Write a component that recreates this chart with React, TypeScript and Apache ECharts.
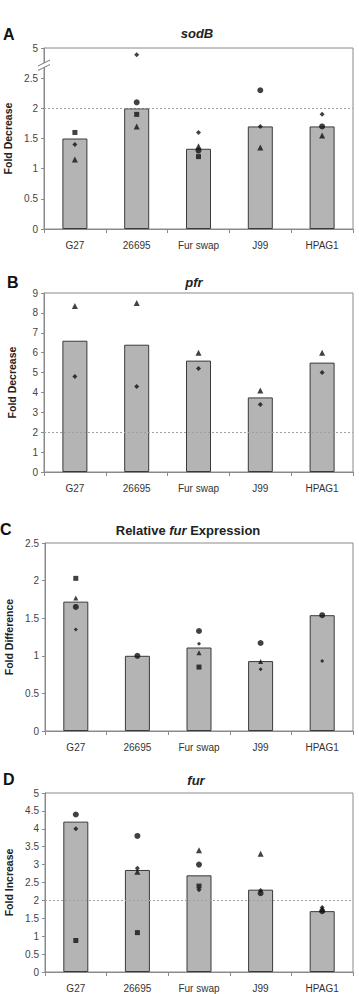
import React, { useEffect, useRef } from 'react';
import * as echarts from 'echarts';

const categories = ['G27', '26695', 'Fur swap', 'J99', 'HPAG1'];

// Panel A: sodB (fold decrease), y axis broken between 2.5 and 5
const sodBBars = [1.5, 2.0, 1.33, 1.7, 1.7];
const sodBSquares = [1.6, 1.9, 1.2, null, null];
const sodBDiamonds = [1.4, 4.45, 1.6, 1.7, 1.9];
const sodBCircles = [null, 2.1, 1.3, 2.3, 1.7];
const sodBTriangles = [1.15, 1.7, 1.37, 1.35, 1.55];

// Panel B: pfr (fold decrease)
const pfrBars = [6.6, 6.4, 5.6, 3.75, 5.5];
const pfrTriangles = [8.35, 8.5, 6.0, 4.1, 6.0];
const pfrDiamonds = [4.8, 4.3, 5.2, 3.4, 5.0];

// Panel C: relative fur expression (fold difference)
const relFurBars = [1.72, 1.0, 1.11, 0.93, 1.54];
const relFurSquares = [2.03, null, 0.85, null, null];
const relFurTriangles = [1.77, null, 1.04, 0.925, null];
const relFurDiamonds = [1.35, null, 1.16, 0.82, 0.93];
const relFurCircles = [1.65, 1.0, 1.33, 1.17, 1.54];

// Panel D: fur (fold increase)
const furBars = [4.2, 2.85, 2.7, 2.3, 1.7];
const furCircles = [4.4, 3.8, 3.0, 2.2, 1.7];
const furDiamonds = [4.0, 2.9, 2.3, 2.28, 1.8];
const furSquares = [0.88, 1.1, 2.4, null, null];
const furTriangles = [null, 2.8, 3.4, 3.3, 1.75];

const FONT = 'Liberation Sans, Arial, sans-serif';

// axis break: values above 2.5 compressed so that 5 sits at axis position 3
const breakA = (v: number) => (v <= 2.5 ? v : 2.5 + (v - 2.5) * 0.2);
const ident = (v: number) => v;

type Pts = { shape: string; size: number; data: (number | null)[] };
type Panel = {
  top: number; height: number; left: number; max: number; interval: number;
  yName: string; bars: number[]; points: Pts[]; refLine: boolean;
  tf: (v: number) => number; fmt?: (v: number) => string;
};

const panels: Panel[] = [
  {
    top: 48, height: 181, left: 44, max: 3, interval: 0.5, yName: 'Fold Decrease',
    bars: sodBBars, refLine: true, tf: breakA,
    fmt: (v: number) => (v === 3 ? '5' : String(v)),
    points: [
      { shape: 'rect', size: 5, data: sodBSquares },
      { shape: 'diamond', size: 5, data: sodBDiamonds },
      { shape: 'circle', size: 6, data: sodBCircles },
      { shape: 'triangle', size: 6, data: sodBTriangles },
    ],
  },
  {
    top: 293, height: 179, left: 44, max: 9, interval: 1, yName: 'Fold Decrease',
    bars: pfrBars, refLine: true, tf: ident,
    points: [
      { shape: 'triangle', size: 6, data: pfrTriangles },
      { shape: 'diamond', size: 5, data: pfrDiamonds },
    ],
  },
  {
    top: 543, height: 188, left: 45, max: 2.5, interval: 0.5, yName: 'Fold Difference',
    bars: relFurBars, refLine: false, tf: ident,
    points: [
      { shape: 'rect', size: 5, data: relFurSquares },
      { shape: 'triangle', size: 5, data: relFurTriangles },
      { shape: 'diamond', size: 4, data: relFurDiamonds },
      { shape: 'circle', size: 6, data: relFurCircles },
    ],
  },
  {
    top: 793, height: 179, left: 45, max: 5, interval: 0.5, yName: 'Fold Increase',
    bars: furBars, refLine: true, tf: ident,
    points: [
      { shape: 'circle', size: 6, data: furCircles },
      { shape: 'diamond', size: 5, data: furDiamonds },
      { shape: 'rect', size: 5, data: furSquares },
      { shape: 'triangle', size: 6, data: furTriangles },
    ],
  },
];

function buildOption() {
  const grid: any[] = [];
  const xAxis: any[] = [];
  const yAxis: any[] = [];
  const series: any[] = [];
  panels.forEach((p, i) => {
    grid.push({
      left: p.left, top: p.top, width: 353 - p.left, height: p.height,
      show: true, borderColor: '#8a8a8a', borderWidth: 1, backgroundColor: 'transparent',
      outerBoundsMode: 'none', containLabel: false,
    });
    xAxis.push({
      type: 'category', gridIndex: i, data: categories, boundaryGap: true,
      axisLine: { show: true, lineStyle: { color: '#8a8a8a', width: 1 } },
      axisTick: { show: true, length: 4, lineStyle: { color: '#8a8a8a' } },
      axisLabel: { color: '#333', fontSize: 10, fontFamily: FONT, margin: 11 },
      splitLine: { show: false },
    });
    yAxis.push({
      type: 'value', gridIndex: i, min: 0, max: p.max, interval: p.interval,
      name: p.yName, nameLocation: 'middle', nameGap: 27, nameRotate: 90,
      nameTextStyle: { fontFamily: FONT, fontSize: 10.5, fontWeight: 'bold', color: '#222' },
      axisLine: { show: true, lineStyle: { color: '#8a8a8a', width: 1 } },
      axisTick: { show: true, length: 3, lineStyle: { color: '#8a8a8a' } },
      axisLabel: {
        color: '#444', fontSize: 10, fontFamily: FONT, margin: 6,
        formatter: p.fmt ? p.fmt : (v: number) => String(v),
      },
      splitLine: { show: false },
    });
    series.push({
      type: 'bar', xAxisIndex: i, yAxisIndex: i, barWidth: 25,
      data: p.bars.map(p.tf),
      itemStyle: { color: '#b4b4b4', borderColor: '#3a3a3a', borderWidth: 1 },
      silent: true,
      markLine: p.refLine
        ? {
            silent: true, symbol: 'none', label: { show: false },
            lineStyle: { type: [2, 2], color: '#a0a0a0', width: 1 },
            data: [{ yAxis: 2 }],
          }
        : undefined,
    });
    p.points.forEach((pt) => {
      series.push({
        type: 'scatter', xAxisIndex: i, yAxisIndex: i, symbol: pt.shape,
        symbolSize: pt.size, silent: true,
        itemStyle: { color: '#111' },
        data: pt.data.map((v) => (v === null ? '-' : p.tf(v))),
      });
    });
  });

  const letter = (t: string, x: number, y: number) => ({
    type: 'text', x, y, z: 100,
    style: { text: t, fontFamily: FONT, fontSize: 16, fontWeight: 'bold', fill: '#111', textVerticalAlign: 'middle' },
  });
  const title = (t: string, x: number, y: number) => ({
    type: 'text', x, y, z: 100,
    style: {
      text: t, fontFamily: FONT, fontSize: 13, fontWeight: 'bold', fontStyle: 'italic', fill: '#222',
      textAlign: 'center', textVerticalAlign: 'middle',
    },
  });

  const graphic: any[] = [
    letter('A', 3, 34),
    letter('B', 7, 282),
    letter('C', 0, 529),
    letter('D', 3, 779),
    title('sodB', 197, 33),
    title('pfr', 194, 282),
    title('fur', 196, 780),
    {
      type: 'text', x: 188, y: 530, z: 100,
      style: {
        text: '{n|Relative }{i|fur}{n| Expression}',
        textAlign: 'center', textVerticalAlign: 'middle',
        rich: {
          n: { fontFamily: FONT, fontSize: 13, fontWeight: 'bold', fill: '#222', color: '#222' },
          i: { fontFamily: FONT, fontSize: 13, fontWeight: 'bold', fontStyle: 'italic', fill: '#222', color: '#222' },
        },
      },
    },
    // axis break mark on panel A
    {
      type: 'polygon', z: 100,
      shape: { points: [[38, 66], [50, 60], [50, 64.5], [38, 70.5]] },
      style: { fill: '#fff', stroke: 'none' },
    },
    {
      type: 'line', z: 101,
      shape: { x1: 38, y1: 66, x2: 50, y2: 60 },
      style: { stroke: '#777', lineWidth: 1 },
    },
    {
      type: 'line', z: 101,
      shape: { x1: 38, y1: 70.5, x2: 50, y2: 64.5 },
      style: { stroke: '#777', lineWidth: 1 },
    },
  ];

  return {
    animation: false,
    backgroundColor: '#fff',
    grid, xAxis, yAxis, series, graphic,
  };
}

export default function App() {
  const ref = useRef<HTMLDivElement>(null);
  useEffect(() => {
    document.body.style.margin = '0';
    const chart = echarts.init(ref.current as HTMLDivElement, null, { renderer: 'svg' });
    chart.setOption(buildOption() as any);
    return () => chart.dispose();
  }, []);
  return <div ref={ref} style={{ width: 359, height: 994 }} />;
}
